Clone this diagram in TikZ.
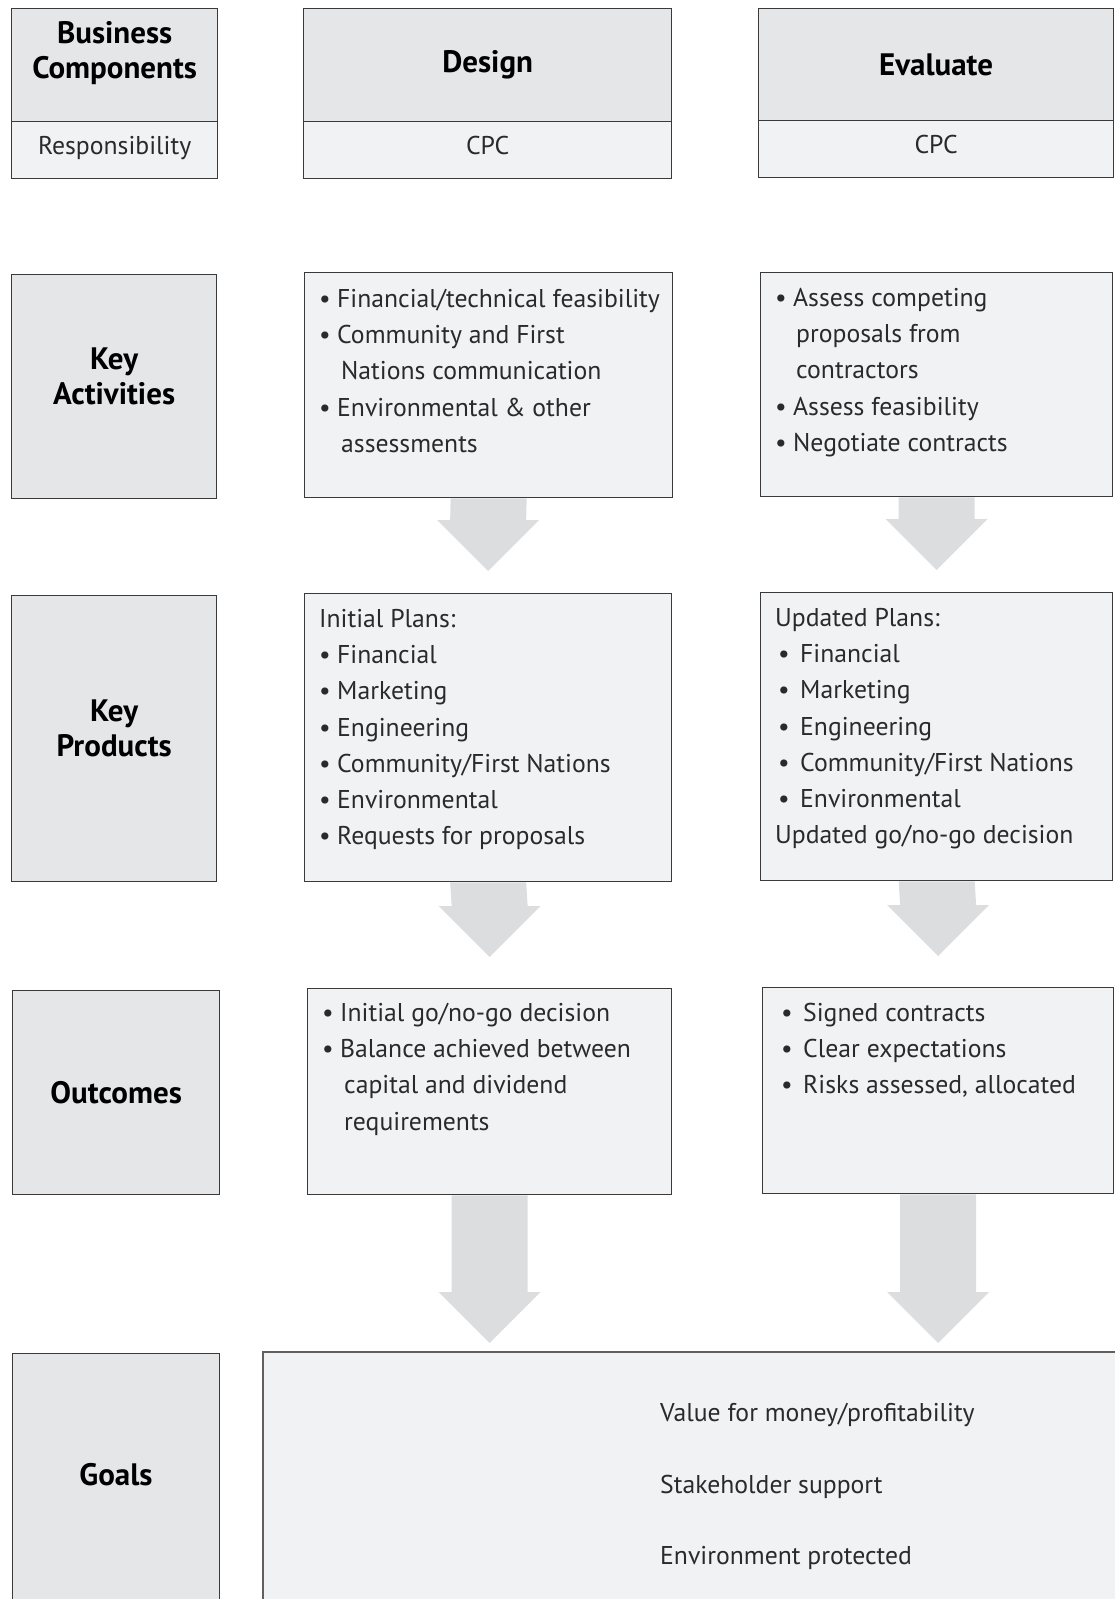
\documentclass[tikz,border=0pt]{standalone}
\usepackage{fontspec}
\setmainfont{PT Sans}
\usetikzlibrary{positioning,calc}

\definecolor{headgray}{HTML}{E5E6E8}
\definecolor{boxgray}{HTML}{F1F2F4}
\definecolor{arrowgray}{HTML}{DCDDDF}
\definecolor{linegray}{HTML}{3A3A3A}
\definecolor{goalline}{HTML}{606060}
\definecolor{textgray}{HTML}{2A2A2A}

\newcommand{\bodyfont}{\fontsize{25.7}{36.2}\selectfont\color{textgray}}
\newcommand{\headfont}{\fontsize{31}{35}\selectfont\bfseries}
\newcommand{\bi}[1][18pt]{\makebox[#1][l]{\textbullet}}
\newcommand{\cont}[1][22pt]{\hspace*{#1}}
% block arrow from #1 (top middle) down to #2 (tip)
\newcommand{\blockarrow}[2]{%
  \fill[arrowgray] ($(#1)+(-38,0)$) -- ($(#2)+(-38,-51)$) -- ($(#2)+(-51,-51)$) -- (#2)
    -- ($(#2)+(51,-51)$) -- ($(#2)+(38,-51)$) -- ($(#1)+(38,0)$) -- cycle;}

\begin{document}
\begin{tikzpicture}[x=1pt, y=-1pt,
    box/.style={draw=linegray, line width=1.3pt, fill=boxgray, anchor=north west, inner sep=0pt, font=\bodyfont},
    subbox/.style={box, text height=18pt, text depth=10pt},
    headbox/.style={box, fill=headgray},
    head/.style={font=\headfont, align=center},
    list/.style={font=\bodyfont, align=left, anchor=north west, inner sep=0pt}]
	\useasboundingbox (0,0) rectangle (1115,1599);

	% top row
	\draw (11,8) node [headbox, minimum width=206pt, minimum height=113pt] (bchead) {};
	\draw (bchead.center) ++(0,-12) node [head] (bctext) {Business\\Components};
	\draw (11,121) node [subbox, minimum width=206pt, minimum height=57pt] (bcresp) {Responsibility};
	\draw (303,8) node [headbox, minimum width=368pt, minimum height=113pt, font=\headfont] (deshead) {Design};
	\draw (303,121) node [subbox, minimum width=368pt, minimum height=57pt] (descpc) {CPC};
	\draw (758,8) node [headbox, minimum width=355pt, minimum height=112pt, font=\headfont] (evahead) {Evaluate};
	\draw (758,120) node [subbox, minimum width=355pt, minimum height=57pt] (evacpc) {CPC};

	% key activities
	\draw (11,274) node [headbox, minimum width=205pt, minimum height=224pt] (actlabel) {};
	\draw (actlabel.center) ++(0,-10) node [head] (acttext) {Key\\Activities};
	\draw (304,272) node [box, minimum width=368pt, minimum height=225pt] (desact) {};
	\draw (319,289) node [list] (desacttext) {\bi Financial/technical feasibility\\
		\bi Community and First\\ \cont Nations communication\\
		\bi Environmental \& other\\ \cont assessments};
	\draw (760,272) node [box, minimum width=352pt, minimum height=224pt] (evaact) {};
	\draw (775,288) node [list] (evaacttext) {\bi Assess competing\\ \cont[21pt]proposals from\\
		\cont[21pt]contractors\\ \bi Assess feasibility\\ \bi Negotiate contracts};

	% key products
	\draw (11,595) node [headbox, minimum width=205pt, minimum height=286pt] (prodlabel) {};
	\draw (prodlabel.center) ++(0,-10) node [head] (prodtext) {Key\\Products};
	\draw (304,593) node [box, minimum width=367pt, minimum height=288pt] (desprod) {};
	\draw (319,609) node [list] (desprodtext) {Initial Plans:\\ \bi Financial\\ \bi Marketing\\
		\bi Engineering\\ \bi Community/First Nations\\ \bi Environmental\\ \bi Requests for proposals};
	\draw (760,592) node [box, minimum width=352pt, minimum height=288pt] (evaprod) {};
	\draw (775,608) node [list] (evaprodtext) {Updated Plans:\\ \cont[3pt]\bi[22pt]Financial\\
		\cont[3pt]\bi[22pt]Marketing\\ \cont[3pt]\bi[22pt]Engineering\\
		\cont[3pt]\bi[22pt]Community/First Nations\\ \cont[3pt]\bi[22pt]Environmental\\
		Updated go/no-go decision};

	% outcomes
	\draw (12,990) node [headbox, minimum width=207pt, minimum height=204pt, font=\headfont] (outlabel) {Outcomes};
	\draw (307,988) node [box, minimum width=364pt, minimum height=206pt] (desout) {};
	\draw (322,1003) node [list] (desouttext) {\bi Initial go/no-go decision\\
		\bi Balance achieved between\\ \cont capital and dividend\\ \cont requirements};
	\draw (762,987) node [box, minimum width=351pt, minimum height=206pt] (evaout) {};
	\draw (781,1003) node [list] (evaouttext) {\bi[22pt]Signed contracts\\ \bi[22pt]Clear expectations\\
		\bi[22pt]Risks assessed, allocated};

	% goals
	\draw (12,1353) node [headbox, minimum width=207pt, minimum height=290pt] (goallabel) {};
	\draw (116,1475) node [head] (goaltext) {Goals};
	\draw (262,1351) node [box, draw=goalline, line width=2pt, minimum width=880pt, minimum height=290pt] (goals) {};
	\draw (660,1403) node [list, font=\fontsize{25.7}{71.5}\selectfont\color{textgray}] (goalstext) {Value for money/profitability\\
		Stakeholder support\\ Environment protected};

	% arrows
	\coordinate (tip1) at ($(desprod.north)+(0,-22)$);
	\coordinate (tip2) at ($(evaprod.north)+(0,-22)$);
	\coordinate (tip3) at ($(desout.north)+(0,-31)$);
	\coordinate (tip4) at ($(evaout.north)+(0,-31)$);
	\coordinate (tip5) at ($(desout.south |- goals.north)+(0,-8)$);
	\coordinate (tip6) at ($(evaout.south |- goals.north)+(0,-8)$);
	\blockarrow{desact.south}{tip1}
	\blockarrow{evaact.south}{tip2}
	\blockarrow{desprod.south}{tip3}
	\blockarrow{evaprod.south}{tip4}
	\blockarrow{desout.south}{tip5}
	\blockarrow{evaout.south}{tip6}
\end{tikzpicture}
\end{document}
